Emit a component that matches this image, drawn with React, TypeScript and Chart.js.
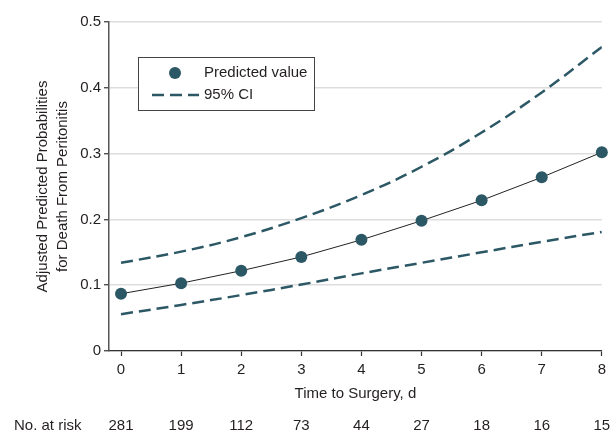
import React, { useEffect, useRef } from "react";
import { Chart, registerables } from "chart.js";

Chart.register(...registerables);

const days = [0, 1, 2, 3, 4, 5, 6, 7, 8];
const predicted = [0.087, 0.103, 0.122, 0.143, 0.169, 0.198, 0.229, 0.264, 0.302];
const upperCI = [0.134, 0.151, 0.173, 0.202, 0.237, 0.280, 0.332, 0.393, 0.462];
const lowerCI = [0.056, 0.070, 0.085, 0.101, 0.118, 0.134, 0.150, 0.166, 0.181];
const atRisk = [281, 199, 112, 73, 44, 27, 18, 16, 15];
const yTicks = [0, 0.1, 0.2, 0.3, 0.4, 0.5];

const TEAL = "#2c5866";
const TEXT = "#231f20";
const FONT = "'Liberation Sans', Arial, sans-serif";

const overlay = {
  id: "overlay",
  afterDraw(chart: any) {
    const ctx = chart.ctx;
    const xs = chart.scales.x;
    const area = chart.chartArea;
    ctx.save();
    ctx.fillStyle = TEXT;
    ctx.font = `15px ${FONT}`;
    // y title
    ctx.save();
    const cy = (area.top + area.bottom) / 2;
    ctx.translate(43, cy);
    ctx.rotate(-Math.PI / 2);
    ctx.textAlign = "center";
    ctx.textBaseline = "middle";
    ctx.fillText("Adjusted Predicted Probabilities", 0, 0);
    ctx.fillText("for Death From Peritonitis", 0, 20);
    ctx.restore();
    // x title
    ctx.textAlign = "center";
    ctx.textBaseline = "middle";
    ctx.fillText("Time to Surgery, d", (area.left + area.right) / 2, 394);
    // at risk
    ctx.textAlign = "left";
    ctx.fillText("No. at risk", 14, 426);
    ctx.textAlign = "center";
    atRisk.forEach((n, i) => {
      ctx.fillText(String(n), xs.getPixelForValue(days[i]), 426);
    });
    // legend
    const lx = 138, ly = 57, lw = 176, lh = 53;
    ctx.fillStyle = "#ffffff";
    ctx.fillRect(lx, ly, lw, lh);
    ctx.strokeStyle = "#444";
    ctx.lineWidth = 1;
    ctx.strokeRect(lx + 0.5, ly + 0.5, lw, lh);
    ctx.fillStyle = TEAL;
    ctx.beginPath();
    ctx.arc(175, 73, 6, 0, Math.PI * 2);
    ctx.fill();
    ctx.strokeStyle = TEAL;
    ctx.lineWidth = 2.5;
    ctx.setLineDash([12, 6]);
    ctx.beginPath();
    ctx.moveTo(152, 95);
    ctx.lineTo(199, 95);
    ctx.stroke();
    ctx.setLineDash([]);
    ctx.fillStyle = TEXT;
    ctx.textAlign = "left";
    ctx.fillText("Predicted value", 204, 73);
    ctx.fillText("95% CI", 204, 95);
    ctx.restore();
  },
};

export default function App() {
  const ref = useRef<HTMLCanvasElement | null>(null);
  useEffect(() => {
    document.body.style.margin = "0";
    const toXY = (arr: number[]) => arr.map((v, i) => ({ x: days[i], y: v }));
    const chart = new Chart(ref.current as HTMLCanvasElement, {
      type: "line",
      data: {
        datasets: [
          {
            label: "95% CI upper",
            data: toXY(upperCI),
            borderColor: TEAL,
            borderWidth: 2.5,
            borderDash: [12, 6],
            pointRadius: 0,
            tension: 0.4,
            fill: false,
          },
          {
            label: "95% CI lower",
            data: toXY(lowerCI),
            borderColor: TEAL,
            borderWidth: 2.5,
            borderDash: [12, 6],
            pointRadius: 0,
            tension: 0.4,
            fill: false,
          },
          {
            label: "Predicted value",
            data: toXY(predicted),
            borderColor: "#222",
            borderWidth: 1,
            pointRadius: 6,
            pointBackgroundColor: TEAL,
            pointBorderWidth: 0,
            tension: 0,
            clip: false,
          } as any,
        ],
      },
      options: {
        animation: false,
        responsive: false,
        layout: { padding: { top: 22, right: 8, left: 0, bottom: 0 } },
        plugins: { legend: { display: false }, tooltip: { enabled: false } },
        scales: {
          x: {
            type: "linear",
            min: -0.2,
            max: 8,
            afterBuildTicks: (s: any) => {
              s.ticks = days.map((v) => ({ value: v }));
            },
            afterFit: (s: any) => {
              s.height = 95;
            },
            ticks: { color: TEXT, font: { family: FONT, size: 15 }, padding: 5 },
            grid: { drawOnChartArea: false, tickLength: 5, tickColor: "#333", tickWidth: 1.2 },
            border: { color: "#333", width: 1.2 },
          },
          y: {
            min: 0,
            max: 0.5,
            afterBuildTicks: (s: any) => {
              s.ticks = yTicks.map((v) => ({ value: v }));
            },
            afterFit: (s: any) => {
              s.width = 109;
            },
            ticks: {
              color: TEXT,
              font: { family: FONT, size: 15 },
              padding: 3,
              callback: (v: any) => (v === 0 ? "0" : Number(v).toFixed(1)),
            },
            grid: { color: "#dddddd", lineWidth: 1.5, tickLength: 5, tickColor: "#333", tickWidth: 1.2 },
            border: { color: "#555", width: 1.5 },
          },
        },
      },
      plugins: [overlay],
    });
    return () => chart.destroy();
  }, []);
  return (
    <div style={{ width: 611, height: 446, background: "#fff" }}>
      <canvas ref={ref} width={611} height={446} />
    </div>
  );
}
